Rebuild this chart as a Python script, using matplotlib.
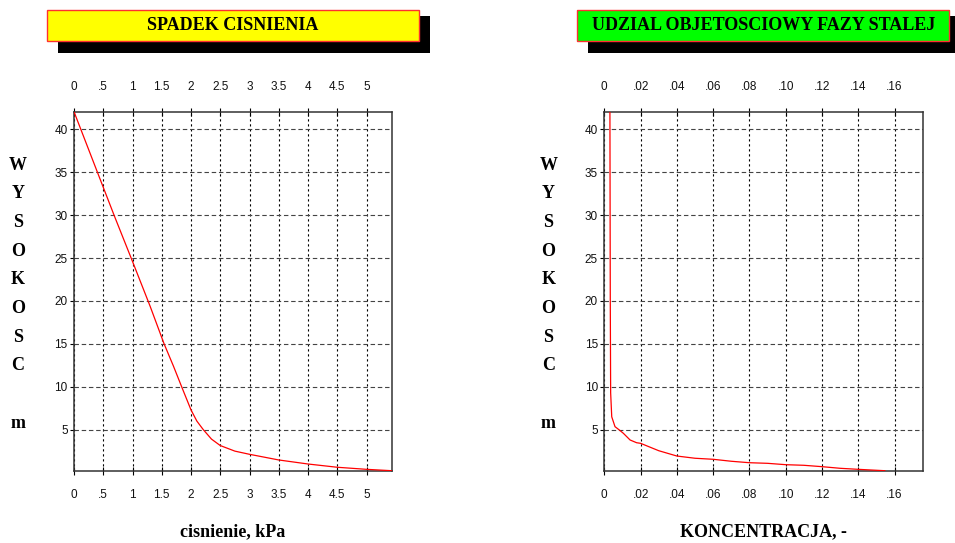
import matplotlib
matplotlib.use("Agg")
import matplotlib.pyplot as plt
from matplotlib.patches import Rectangle

# pressure drop along the height
press_x = [0.00, 0.40, 0.69, 1.00, 1.30, 1.54, 1.70, 1.84, 2.00, 2.10, 2.21, 2.35,
           2.50, 2.75, 3.00, 3.50, 4.00, 4.50, 5.00, 5.43]
press_y = [42.05, 35.0, 29.9, 24.6, 19.4, 15.0, 12.4, 10.0, 7.3, 6.0, 5.0, 3.9,
           3.15, 2.5, 2.13, 1.47, 1.0, 0.62, 0.38, 0.22]

# solid phase volume fraction along the height
conc_x = [0.0031, 0.0033, 0.0035, 0.0041, 0.0059, 0.0083, 0.0105, 0.0142, 0.0178,
          0.020, 0.030, 0.040, 0.050, 0.060, 0.070, 0.080, 0.090, 0.100, 0.110,
          0.120, 0.130, 0.140, 0.150, 0.1546]
conc_y = [42.05, 20.0, 9.3, 6.5, 5.35, 4.96, 4.58, 3.8, 3.48,
          3.41, 2.55, 1.93, 1.67, 1.55, 1.32, 1.15, 1.08, 0.92, 0.85,
          0.69, 0.50, 0.38, 0.27, 0.22]

press_ticks = [0, 0.5, 1, 1.5, 2, 2.5, 3, 3.5, 4, 4.5, 5]
press_labels = ["0", ".5", "1", "1.5", "2", "2.5", "3", "3.5", "4", "4.5", "5"]
conc_ticks = [0, 0.02, 0.04, 0.06, 0.08, 0.10, 0.12, 0.14, 0.16]
conc_labels = ["0", ".02", ".04", ".06", ".08", ".10", ".12", ".14", ".16"]
height_ticks = [5, 10, 15, 20, 25, 30, 35, 40]

W, H = 955, 543
SERIF = ["Liberation Serif", "DejaVu Serif"]
NARROW = ["Liberation Sans Narrow", "Liberation Sans", "DejaVu Sans"]

fig = plt.figure(figsize=(W / 100, H / 100), dpi=100)


def px_rect(x0, y0, x1, y1):
    return [x0 / W, 1 - y1 / H, (x1 - x0) / W, (y1 - y0) / H]


def panel(x0, x1, x, y, xmax, ticks, labels, title, face, xlabel):
    ax = fig.add_axes(px_rect(x0, 111.7, x1, 470.7))
    ax.plot(x, y, color="#ff0000", lw=0.9, zorder=3)
    ax.set_xlim(0, xmax)
    ax.set_ylim(0.22, 42.05)
    ax.set_xticks(ticks)
    ax.set_xticklabels(labels)
    ax.set_yticks(height_ticks)
    ax.set_axisbelow(True)
    ax.xaxis.grid(True, color="black", lw=0.8, ls=(0, (2, 2.5)))
    ax.yaxis.grid(True, color="#444444", lw=0.8, ls=(0, (4, 2.5)))
    ax.tick_params(axis="x", top=True, labeltop=True, bottom=True, labelbottom=True,
                   direction="inout", length=6, width=0.8, pad=10.5, labelsize=8.5)
    ax.tick_params(axis="y", direction="out", length=3, width=0.8, pad=1.5, labelsize=8.5)
    for lab in ax.get_xticklabels() + ax.get_yticklabels():
        lab.set_family(NARROW)
        lab.set_color("#111111")
    for s in ax.spines.values():
        s.set_color("#333333")
        s.set_linewidth(1.1)

    # title box with drop shadow
    bx0 = x0 - 27
    fig.patches.append(Rectangle(((bx0 + 11) / W, 1 - 52.7 / H), 372 / W, 36.7 / H,
                                 transform=fig.transFigure, facecolor="black",
                                 edgecolor="none", zorder=1))
    fig.patches.append(Rectangle((bx0 / W, 1 - 40.7 / H), 372 / W, 30.7 / H,
                                 transform=fig.transFigure, facecolor=face,
                                 edgecolor="#ff3030", lw=1, zorder=2))
    fig.text((bx0 + 186) / W, 1 - 25.5 / H, title, ha="center", va="center",
             family=SERIF, weight="bold", fontsize=13, zorder=3)

    # stacked vertical axis label
    lx = x0 - 56
    for i, ch in enumerate("WYSOKOSC m"):
        if ch != " ":
            fig.text(lx / W, 1 - (165 + i * 28.7) / H, ch, ha="center", va="center",
                     family=SERIF, weight="bold", fontsize=13)

    fig.text((x0 + x1) / 2 / W, 1 - 532 / H, xlabel, ha="center", va="center",
             family=SERIF, weight="bold", fontsize=13)
    return ax


ax1 = panel(74, 391.7, press_x, press_y, 5.43, press_ticks, press_labels,
            "SPADEK CISNIENIA", "#ffff00", "cisnienie, kPa")
ax2 = panel(604.3, 922.7, conc_x, conc_y, 0.1755, conc_ticks, conc_labels,
            "UDZIAL OBJETOSCIOWY FAZY STALEJ", "#00ff00", "KONCENTRACJA, -")

fig.savefig("out.png", dpi=100)
